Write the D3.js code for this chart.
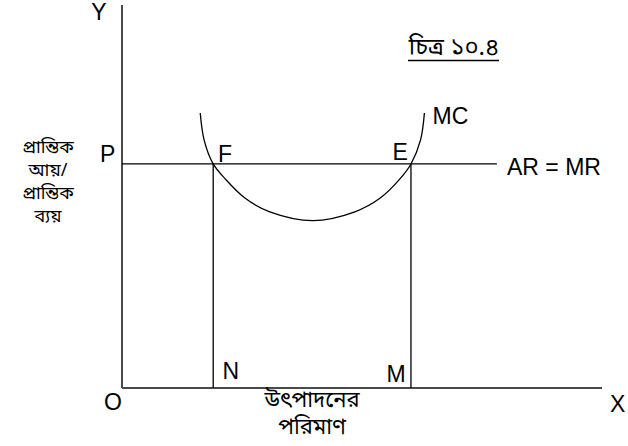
<!DOCTYPE html>
<html><head><meta charset="utf-8">
<script src="https://cdn.jsdelivr.net/npm/d3@7"></script>
<style>
html,body{margin:0;padding:0;background:#fff;}
svg{display:block;}
.lat{font-family:"Liberation Sans",Arial,sans-serif;font-size:23px;fill:#000;}
.bn{font-family:"Noto Sans Bengali","Lohit Bengali","Noto Sans",sans-serif;font-size:22px;fill:#000;}
</style></head>
<body>
<svg id="c" width="628" height="446"></svg>
<script>
// ---- data (chart units: x and y from 0 to 100) ----
const mcX = [16.3, 17.1, 19.0, 21.5, 25.6, 30.8, 39.8, 48.5, 53.8, 57.9, 60.2, 62.2, 63.0];
const mcY = [71.8, 64.8, 58.5, 54.6, 49.6, 46.0, 43.7, 46.0, 49.6, 54.6, 58.5, 64.8, 71.8];
const priceLevel = 58.5;           // P : AR = MR
const arEndX = 78.1;               // end of AR = MR line
const qN = 19.0;                   // output at F
const qM = 60.2;                   // output at E
const axisEnd = {x: 100, y: 100};
const yLabelLines = ["প্রান্তিক", "আয়/", "প্রান্তিক", "ব্যয়"];
const xLabelLines = ["উৎপাদনের", "পরিমাণ"];
const title = "চিত্র ১০.৪";

const svg = d3.select("#c");
const x = d3.scaleLinear().domain([0, 100]).range([122, 602]);
const y = d3.scaleLinear().domain([0, 100]).range([388, 5]);

// axes
svg.append("line").attr("x1", x(0)).attr("y1", y(0)).attr("x2", x(0)).attr("y2", y(axisEnd.y))
  .attr("stroke", "#4a4a4a").attr("stroke-width", 2);
svg.append("line").attr("x1", x(0)).attr("y1", y(0)).attr("x2", x(axisEnd.x)).attr("y2", y(0))
  .attr("stroke", "#4a4a4a").attr("stroke-width", 2);

// AR = MR line
svg.append("line").attr("x1", x(0)).attr("x2", x(arEndX)).attr("y1", y(priceLevel)).attr("y2", y(priceLevel))
  .attr("stroke", "#000").attr("stroke-width", 1.3);
// verticals
[qN, qM].forEach(q => {
  svg.append("line").attr("x1", x(q)).attr("x2", x(q)).attr("y1", y(priceLevel)).attr("y2", y(0))
    .attr("stroke", "#000").attr("stroke-width", 1.3);
});

// MC curve
const pts = mcX.map((v, i) => [v, mcY[i]]);
svg.append("path").datum(pts)
  .attr("d", d3.line().x(d => x(d[0])).y(d => y(d[1])).curve(d3.curveCatmullRom.alpha(0.5)))
  .attr("fill", "none").attr("stroke", "#000").attr("stroke-width", 1.3);

// Latin labels
const lat = [
  ["Y", 99, 20, "middle"],
  ["P", 100, 162, "start"],
  ["F", 218, 162, "start"],
  ["E", 392.5, 159.5, "start"],
  ["MC", 432.5, 124, "start"],
  ["AR = MR", 507, 175, "start"],
  ["N", 222.5, 379, "start"],
  ["M", 386.5, 381.5, "start"],
  ["O", 122, 410, "end"],
  ["X", 610, 411.5, "start"]
];
lat.forEach(d => svg.append("text").attr("class", "lat").attr("x", d[1]).attr("y", d[2])
  .attr("text-anchor", d[3]).text(d[0]));

// title
svg.append("text").attr("class", "bn").attr("x", 454).attr("y", 55).attr("text-anchor", "middle")
  .style("font-size", "24px").text(title);
svg.append("line").attr("x1", 408).attr("x2", 499).attr("y1", 60.5).attr("y2", 60.5)
  .attr("stroke", "#000").attr("stroke-width", 1.3);

// y label
yLabelLines.forEach((t, i) => svg.append("text").attr("class", "bn").attr("x", 48)
  .attr("y", 153 + i * 23).attr("text-anchor", "middle").style("font-size", "18px").text(t));
// x label
xLabelLines.forEach((t, i) => svg.append("text").attr("class", "bn").attr("x", 312)
  .attr("y", 407 + i * 27).attr("text-anchor", "middle").text(t));
</script>
</body></html>
